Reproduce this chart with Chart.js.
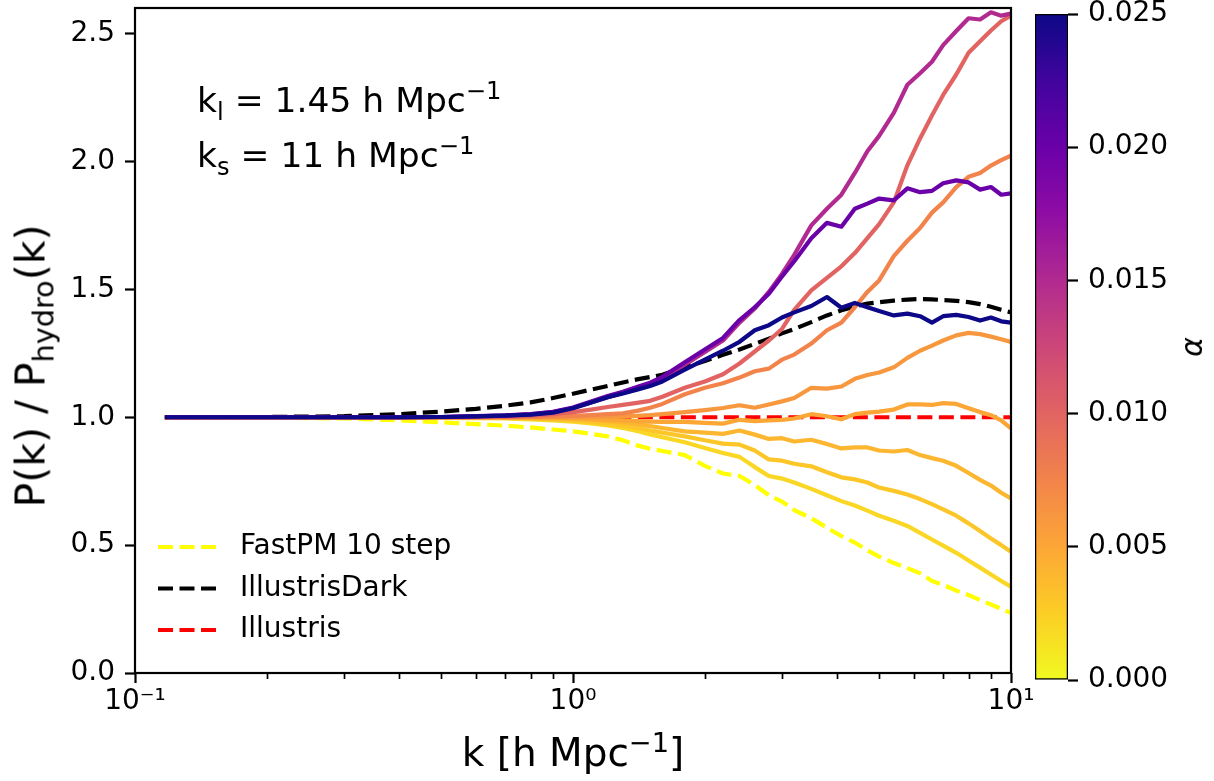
<!DOCTYPE html>
<html>
<head>
<meta charset="utf-8">
<script src="https://cdn.jsdelivr.net/npm/chart.js@4.4.1/dist/chart.umd.min.js"></script>
<style>
html,body{margin:0;padding:0;background:#fff;}
#wrap{position:relative;width:1214px;height:781px;overflow:hidden;font-family:"DejaVu Sans",sans-serif;color:#000;}
#main{position:absolute;left:0;top:0;}
#cbar{position:absolute;left:1000px;top:0;}
.lbl{position:absolute;white-space:nowrap;line-height:1;}
.lbl sub,.lbl sup{font-size:70%;line-height:0;}
#ylab{left:31px;top:366px;font-size:41px;transform:translate(-50%,-50%) rotate(-90deg);}
#xlab{left:573px;top:752px;font-size:39px;transform:translate(-50%,-50%);}
#ann1{left:197px;top:100px;font-size:34.5px;transform:translateY(-50%);}
#ann2{left:197px;top:155px;font-size:34.5px;transform:translateY(-50%);}
#alab{left:1192px;top:347px;font-size:30px;font-style:italic;transform:translate(-50%,-50%) rotate(-90deg);}
</style>
</head>
<body>
<div id="wrap">
  <canvas id="main" width="1214" height="781"></canvas>
  <canvas id="cbar" width="214" height="781"></canvas>
  <div class="lbl" id="ylab">P(k) / P<sub>hydro</sub>(k)</div>
  <div class="lbl" id="xlab">k [h Mpc<sup>−1</sup>]</div>
  <div class="lbl" id="ann1">k<sub>l</sub> = 1.45 h Mpc<sup>−1</sup></div>
  <div class="lbl" id="ann2">k<sub>s</sub> = 11 h Mpc<sup>−1</sup></div>
  <div class="lbl" id="alab">α</div>
</div>
<script>
// ---------------- data ----------------
const kGrid = [0.117, 0.2, 0.3, 0.4, 0.5, 0.6, 0.7, 0.8, 0.9, 1.0, 1.1, 1.2, 1.3, 1.4, 1.5, 1.6, 1.8, 2.0, 2.2, 2.4, 2.6, 2.8, 3.0, 3.2, 3.5, 3.8, 4.1, 4.4, 4.7, 5.0, 5.4, 5.8, 6.2, 6.6, 7.0, 7.5, 8.0, 8.5, 9.0, 9.5, 10.0];

const alphaLevels = [0.025, 0.02, 0.015, 0.01, 0.0075, 0.006, 0.005, 0.004, 0.003, 0.002];

const ratioAlpha0250 = [1.0, 1.0, 1.0, 1.0, 1.001, 1.003, 1.006, 1.010, 1.018, 1.035, 1.058, 1.078, 1.093, 1.108, 1.122, 1.14, 1.186, 1.225, 1.26, 1.295, 1.34, 1.36, 1.39, 1.41, 1.435, 1.47, 1.428, 1.447, 1.43, 1.415, 1.398, 1.405, 1.395, 1.37, 1.395, 1.40, 1.392, 1.378, 1.39, 1.375, 1.37];
const ratioAlpha0200 = [1.0, 1.0, 1.0, 1.0, 1.001, 1.004, 1.007, 1.012, 1.021, 1.038, 1.062, 1.083, 1.10, 1.118, 1.135, 1.158, 1.215, 1.265, 1.31, 1.38, 1.43, 1.483, 1.55, 1.61, 1.70, 1.76, 1.745, 1.815, 1.835, 1.855, 1.848, 1.895, 1.88, 1.885, 1.915, 1.926, 1.918, 1.89, 1.90, 1.87, 1.875];
const ratioAlpha0150 = [1.0, 1.0, 1.0, 1.0, 1.001, 1.003, 1.006, 1.011, 1.02, 1.036, 1.058, 1.078, 1.095, 1.112, 1.13, 1.152, 1.205, 1.255, 1.30, 1.37, 1.425, 1.49, 1.56, 1.635, 1.75, 1.815, 1.87, 1.955, 2.04, 2.10, 2.19, 2.30, 2.345, 2.39, 2.455, 2.51, 2.56, 2.555, 2.583, 2.57, 2.578];
const ratioAlpha0100 = [1.0, 1.0, 1.0, 1.0, 1.0, 1.001, 1.002, 1.005, 1.012, 1.02, 1.03, 1.04, 1.048, 1.056, 1.064, 1.08, 1.115, 1.14, 1.168, 1.21, 1.257, 1.30, 1.345, 1.42, 1.496, 1.545, 1.59, 1.642, 1.70, 1.755, 1.84, 1.985, 2.09, 2.18, 2.26, 2.34, 2.425, 2.47, 2.512, 2.548, 2.57];
const ratioAlpha0075 = [1.0, 1.0, 1.0, 1.0, 1.0, 1.0, 1.0, 1.001, 1.003, 1.005, 1.008, 1.012, 1.015, 1.025, 1.037, 1.052, 1.09, 1.115, 1.133, 1.155, 1.18, 1.19, 1.225, 1.245, 1.288, 1.34, 1.37, 1.43, 1.49, 1.535, 1.63, 1.69, 1.74, 1.80, 1.84, 1.90, 1.94, 1.955, 1.984, 2.005, 2.023];
const ratioAlpha0060 = [1.0, 1.0, 1.0, 1.0, 1.0, 1.0, 1.0, 1.0, 1.0, 1.0, 1.001, 1.002, 1.003, 1.005, 1.008, 1.012, 1.02, 1.028, 1.036, 1.047, 1.037, 1.05, 1.062, 1.075, 1.115, 1.112, 1.12, 1.15, 1.165, 1.175, 1.195, 1.232, 1.26, 1.28, 1.30, 1.32, 1.33, 1.325, 1.315, 1.305, 1.294];
const ratioAlpha0050 = [1.0, 1.0, 1.0, 0.999, 0.999, 0.999, 0.999, 0.999, 0.998, 0.996, 0.993, 0.99, 0.988, 0.985, 0.983, 0.982, 0.982, 0.978, 0.975, 0.99, 0.985, 0.988, 0.99, 0.995, 1.012, 1.004, 0.992, 1.012, 1.018, 1.022, 1.03, 1.05, 1.05, 1.048, 1.055, 1.052, 1.035, 1.02, 1.008, 0.988, 0.956];
const ratioAlpha0040 = [1.0, 1.0, 0.999, 0.999, 0.998, 0.998, 0.998, 0.998, 0.996, 0.993, 0.99, 0.985, 0.98, 0.973, 0.965, 0.958, 0.945, 0.94, 0.935, 0.948, 0.932, 0.915, 0.918, 0.905, 0.912, 0.895, 0.878, 0.882, 0.882, 0.87, 0.866, 0.872, 0.852, 0.84, 0.83, 0.81, 0.782, 0.755, 0.733, 0.705, 0.682];
const ratioAlpha0030 = [1.0, 1.0, 0.999, 0.999, 0.998, 0.998, 0.997, 0.995, 0.992, 0.988, 0.982, 0.975, 0.967, 0.958, 0.948, 0.94, 0.925, 0.91, 0.897, 0.893, 0.87, 0.835, 0.83, 0.818, 0.808, 0.785, 0.765, 0.757, 0.745, 0.725, 0.712, 0.698, 0.68, 0.66, 0.64, 0.615, 0.585, 0.555, 0.526, 0.50, 0.474];
const ratioAlpha0020 = [1.0, 1.0, 0.999, 0.998, 0.997, 0.996, 0.995, 0.992, 0.988, 0.983, 0.976, 0.968, 0.958, 0.946, 0.933, 0.922, 0.902, 0.88, 0.86, 0.845, 0.805, 0.77, 0.76, 0.745, 0.72, 0.695, 0.672, 0.655, 0.635, 0.615, 0.595, 0.575, 0.548, 0.522, 0.498, 0.47, 0.44, 0.412, 0.385, 0.36, 0.337];

const fastpmRatio = [1.0, 0.999, 0.995, 0.988, 0.98, 0.973, 0.967, 0.96, 0.952, 0.945, 0.935, 0.925, 0.91, 0.89, 0.877, 0.868, 0.852, 0.81, 0.78, 0.77, 0.735, 0.695, 0.67, 0.637, 0.605, 0.568, 0.535, 0.51, 0.48, 0.455, 0.43, 0.41, 0.39, 0.36, 0.345, 0.322, 0.305, 0.285, 0.268, 0.25, 0.235];
const illustrisDarkRatio = [1.0, 1.001, 1.004, 1.012, 1.022, 1.033, 1.045, 1.058, 1.075, 1.092, 1.108, 1.122, 1.136, 1.148, 1.157, 1.166, 1.195, 1.220, 1.244, 1.265, 1.287, 1.307, 1.328, 1.345, 1.372, 1.398, 1.418, 1.433, 1.444, 1.450, 1.456, 1.460, 1.462, 1.461, 1.458, 1.455, 1.450, 1.442, 1.432, 1.42, 1.41];
const illustrisRatio = [1, 1, 1, 1, 1, 1, 1, 1, 1, 1, 1, 1, 1, 1, 1, 1, 1, 1, 1, 1, 1, 1, 1, 1, 1, 1, 1, 1, 1, 1, 1, 1, 1, 1, 1, 1, 1, 1, 1, 1, 1];

const referenceLabels = ['FastPM 10 step', 'IllustrisDark', 'Illustris'];

const yTicks = [0, 0.5, 1.0, 1.5, 2.0, 2.5];
const xTicks = [0.1, 1, 10];
const xTickLabels = ['10⁻¹', '10⁰', '10¹'];
const xMinorTicks = [0.2, 0.3, 0.4, 0.5, 0.6, 0.7, 0.8, 0.9, 2, 3, 4, 5, 6, 7, 8, 9];
const cbTicks = [0, 0.005, 0.010, 0.015, 0.020, 0.025];

// ---------------- styling helpers ----------------
const FONT = 'DejaVu Sans';
const PLASMA = [[13,8,135],[65,4,157],[106,0,168],[143,13,164],[177,42,144],[204,71,120],[225,100,98],[242,132,75],[252,166,54],[252,206,37],[240,249,33]];
const ALPHA_MAX = 0.025;
function plasma(t) {
  t = Math.min(1, Math.max(0, t));
  const s = t * 10, i = Math.min(9, Math.floor(s)), f = s - i;
  const a = PLASMA[i], b = PLASMA[i + 1];
  return 'rgb(' + [0,1,2].map(j => Math.round(a[j] + (b[j] - a[j]) * f)).join(',') + ')';
}
function alphaColor(a) { return plasma(1 - a / ALPHA_MAX); }

Chart.defaults.font.family = FONT;
Chart.defaults.color = '#000';

const toPoints = ys => kGrid.map((k, i) => ({x: k, y: ys[i]}));
const colouredSeries = [ratioAlpha0250, ratioAlpha0200, ratioAlpha0150, ratioAlpha0100, ratioAlpha0075,
                        ratioAlpha0060, ratioAlpha0050, ratioAlpha0040, ratioAlpha0030, ratioAlpha0020];

const datasets = colouredSeries.map((ys, i) => ({
  label: 'α = ' + alphaLevels[i],
  data: toPoints(ys),
  borderColor: alphaColor(alphaLevels[i]),
  borderWidth: 4.2,
  pointRadius: 0,
  borderJoinStyle: 'round',
  fill: false,
  order: i
}));
const refSeries = [fastpmRatio, illustrisDarkRatio, illustrisRatio];
const refColors = ['#ffff00', '#000000', '#ff0000'];
refSeries.forEach((ys, i) => datasets.push({
  label: referenceLabels[i],
  data: toPoints(ys),
  borderColor: refColors[i],
  borderWidth: 4.2,
  borderDash: [15, 6.5],
  pointRadius: 0,
  fill: false,
  showInLegend: true,
  order: 20 + i
}));

const framePlugin = {
  id: 'frame',
  afterDatasetsDraw(chart) {
    const {ctx, chartArea: a, scales: {x}} = chart;
    ctx.save();
    ctx.strokeStyle = '#000';
    ctx.lineWidth = 1.7;
    xMinorTicks.forEach(v => {
      const px = Math.round(x.getPixelForValue(v)) + 0.5;
      ctx.beginPath(); ctx.moveTo(px, a.bottom); ctx.lineTo(px, a.bottom + 6); ctx.stroke();
    });
    ctx.lineWidth = 2.2;
    ctx.strokeRect(a.left, a.top, a.right - a.left, a.bottom - a.top);
    ctx.restore();
  }
};

const legendPlugin = {
  id: 'insideLegend',
  afterDraw(chart) {
    const {ctx, chartArea: a} = chart;
    const items = chart.data.datasets.filter(d => d.showInLegend);
    ctx.save();
    ctx.font = '28px "' + FONT + '"';
    ctx.textBaseline = 'middle';
    ctx.fillStyle = '#000';
    items.forEach((d, i) => {
      const y = a.bottom - 126 + i * 41.5;
      ctx.strokeStyle = d.borderColor;
      ctx.lineWidth = d.borderWidth;
      ctx.setLineDash(d.borderDash || []);
      ctx.beginPath(); ctx.moveTo(a.left + 23, y); ctx.lineTo(a.left + 82, y); ctx.stroke();
      ctx.setLineDash([]);
      ctx.fillText(d.label, a.left + 105, y);
    });
    ctx.restore();
  }
};

new Chart(document.getElementById('main'), {
  type: 'line',
  data: {datasets},
  options: {
    responsive: false,
    devicePixelRatio: 1,
    animation: false,
    events: [],
    layout: {padding: {left: 0, top: 8, right: 203, bottom: 0}},
    plugins: {legend: {display: false}, tooltip: {enabled: false}},
    scales: {
      x: {
        type: 'logarithmic', min: 0.1, max: 10,
        afterBuildTicks: s => { s.ticks = xTicks.map(v => ({value: v})); },
        afterFit: s => { s.height = 108; s.paddingLeft = 0; s.paddingRight = 0; },
        ticks: {callback: (v, i) => xTickLabels[i], font: {size: 28}, color: '#000', padding: 2, maxRotation: 0, autoSkip: false},
        grid: {drawOnChartArea: false, drawTicks: true, tickLength: 10, tickWidth: 2.2, tickColor: '#000'},
        border: {display: false}
      },
      y: {
        min: 0, max: 2.6,
        afterBuildTicks: s => { s.ticks = yTicks.map(v => ({value: v})); },
        afterFit: s => { s.width = 135; s.paddingTop = 0; s.paddingBottom = 0; },
        ticks: {callback: v => Number(v).toFixed(1), font: {size: 28}, color: '#000', padding: 10},
        grid: {drawOnChartArea: false, drawTicks: true, tickLength: 10, tickWidth: 2.2, tickColor: '#000'},
        border: {display: false}
      }
    }
  },
  plugins: [framePlugin, legendPlugin]
});

// ---------------- colour bar ----------------
const PLASMA_MID = plasma(0.5);
function cbGradient(context) {
  const chart = context.chart, area = chart.chartArea;
  if (!area) return PLASMA_MID;
  const g = chart.ctx.createLinearGradient(0, area.bottom, 0, area.top);
  for (let i = 0; i <= 20; i++) {
    const frac = i / 20;
    g.addColorStop(frac, alphaColor(frac * ALPHA_MAX));
  }
  return g;
}

new Chart(document.getElementById('cbar'), {
  type: 'bar',
  data: {
    labels: ['α'],
    datasets: [{
      data: [[cbTicks[0], cbTicks[cbTicks.length - 1]]],
      backgroundColor: cbGradient,
      borderColor: '#000',
      borderWidth: 1.6,
      borderSkipped: false,
      barPercentage: 1,
      categoryPercentage: 1
    }]
  },
  options: {
    responsive: false,
    devicePixelRatio: 1,
    animation: false,
    events: [],
    layout: {padding: {left: 35, top: 14, right: 0, bottom: 101}},
    plugins: {legend: {display: false}, tooltip: {enabled: false}},
    scales: {
      x: {display: false},
      y: {
        position: 'right', min: 0, max: 0.025,
        afterBuildTicks: s => { s.ticks = cbTicks.map(v => ({value: v})); },
        afterFit: s => { s.width = 146; s.paddingTop = 0; s.paddingBottom = 0; },
        ticks: {callback: v => Number(v).toFixed(3), font: {size: 28}, color: '#000', padding: 10},
        grid: {drawOnChartArea: false, drawTicks: true, tickLength: 10, tickWidth: 2.2, tickColor: '#000'},
        border: {display: false}
      }
    }
  }
});
</script>
</body>
</html>
